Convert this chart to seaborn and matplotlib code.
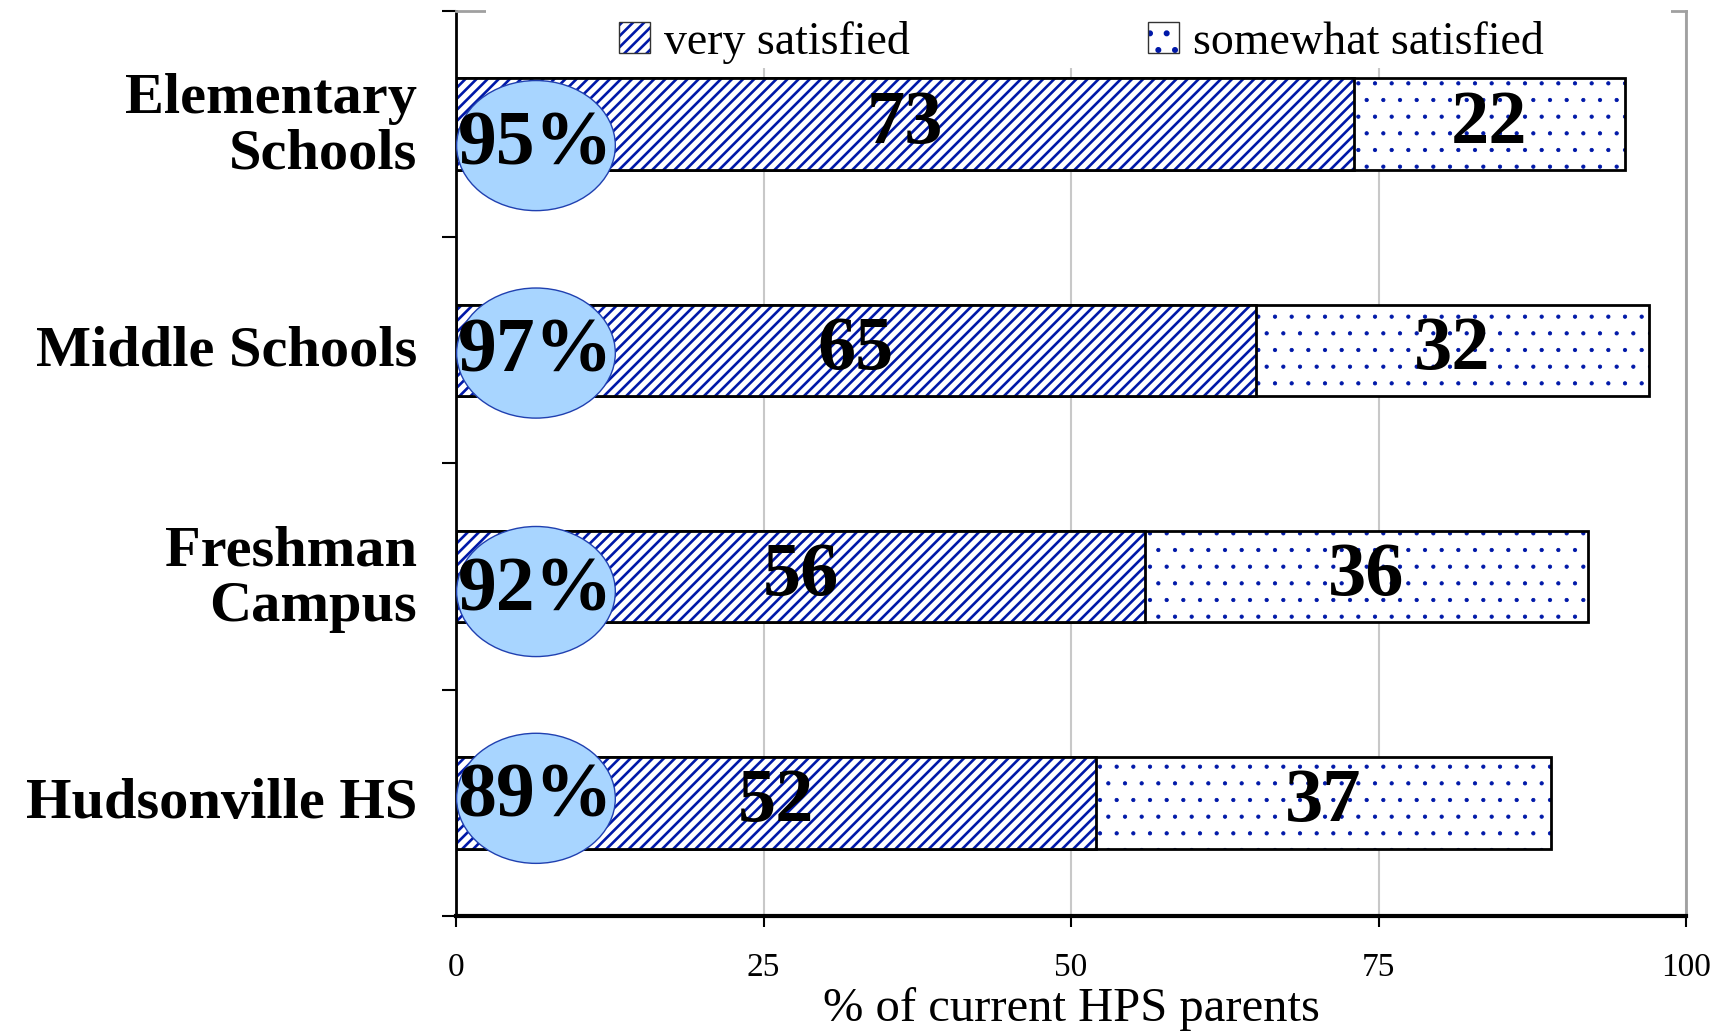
import numpy as np
import pandas as pd
import matplotlib
matplotlib.use("Agg")
import matplotlib.pyplot as plt
import matplotlib.patches as mpatches
import matplotlib.colors as mcolors
import matplotlib.transforms as mtransforms
import seaborn as sns

# ---- data ----
categories = ["Elementary\nSchools", "Middle Schools", "Freshman\nCampus", "Hudsonville HS"]
very_satisfied = [73, 65, 56, 52]
somewhat_satisfied = [22, 32, 36, 37]
total_labels = ["95%", "97%", "92%", "89%"]
x_ticks = [0, 25, 50, 75, 100]
series_names = ["very satisfied", "somewhat satisfied"]
x_label = "% of current HPS parents"

totals = [v + s for v, s in zip(very_satisfied, somewhat_satisfied)]
df = pd.DataFrame({"school": categories, "very": very_satisfied,
                   "somewhat": somewhat_satisfied, "total": totals})

# ---- style ----
sns.set_theme(style="ticks")
plt.rcParams["font.family"] = ["Liberation Serif", "DejaVu Serif"]
for key in ["text.color", "axes.labelcolor", "xtick.color", "ytick.color"]:
    plt.rcParams[key] = "black"

HATCH_BLUE = mcolors.to_rgba("#0018A8")
ELL_FACE = "#A8D5FF"
ELL_EDGE = "#2040B0"
DOT_LW = 0.6
LINE_LW = 1.9


def style_hatch(patches, lw):
    for p in patches:
        p._hatch_color = HATCH_BLUE
        if hasattr(p, "set_hatch_linewidth"):
            p.set_hatch_linewidth(lw)
        p.set_zorder(2)


fig = plt.figure(figsize=(17.3, 10.35), dpi=100)
ax = fig.add_axes([0.2636, 0.1150, 0.7110, 0.8744])

bar_w = 0.405
# full (somewhat) bars, dotted
plt.rcParams["hatch.linewidth"] = DOT_LW
sns.barplot(data=df, x="total", y="school", orient="y", order=categories,
            color="white", saturation=1, width=bar_w, errorbar=None,
            hatch=".", edgecolor="black", linewidth=2, ax=ax)
n_first = len(ax.patches)
style_hatch(ax.patches[:n_first], DOT_LW)
# very satisfied bars on top, diagonal hatch
plt.rcParams["hatch.linewidth"] = LINE_LW
sns.barplot(data=df, x="very", y="school", orient="y", order=categories,
            color="white", saturation=1, width=bar_w, errorbar=None,
            hatch="///", edgecolor="black", linewidth=2, ax=ax)
style_hatch(ax.patches[n_first:], LINE_LW)

ax.set_xlim(0, 100)
ax.set_ylim(3.5, -0.5)
ax.set_xticks(x_ticks)
ax.set_xticklabels([str(t) for t in x_ticks])
ax.set_ylabel("")
ax.set_xlabel(x_label, fontsize=35, labelpad=3, color="black")

# grid
ax.set_axisbelow(True)
ax.xaxis.grid(True, color="#C8C8C8", linewidth=1.5)
ax.yaxis.grid(False)

# spines
ax.spines["left"].set_color("black")
ax.spines["bottom"].set_color("black")
ax.spines["left"].set_linewidth(2)
ax.spines["bottom"].set_linewidth(3)
ax.spines["right"].set_visible(True)
ax.spines["right"].set_color("#A0A0A0")
ax.spines["right"].set_linewidth(2)
ax.spines["top"].set_visible(True)
ax.spines["top"].set_color("#A0A0A0")
ax.spines["top"].set_linewidth(2)

# ticks
ax.tick_params(axis="x", which="major", direction="out", length=8, width=1.5,
               color="black", labelcolor="black", labelsize=24, pad=18,
               bottom=True, top=False)
ax.tick_params(axis="y", which="major", length=0, pad=28, labelsize=42,
               labelcolor="black", left=True)
ax.set_yticks([-0.5, 0.5, 1.5, 2.5, 3.5], minor=True)
ax.tick_params(axis="y", which="minor", direction="out", length=10, width=1.5,
               color="black", left=True, right=False)
ax.tick_params(axis="x", which="minor", bottom=False)
shift_up = mtransforms.ScaledTranslation(0, 5 / 100, fig.dpi_scale_trans)
for t in ax.get_yticklabels():
    t.set_fontweight("bold")
    t.set_linespacing(1.08)
    t.set_transform(t.get_transform() + shift_up)

# white area behind legend covering top border and gridlines
ax.add_patch(mpatches.Rectangle((0.024, 0.937), 0.964, 0.09, transform=ax.transAxes,
                                facecolor="white", edgecolor="none", zorder=2.6,
                                clip_on=False))

# value labels inside segments
for i, (v, s) in enumerate(zip(very_satisfied, somewhat_satisfied)):
    ax.text(v / 2, i, str(v), ha="center", va="center", fontsize=55,
            fontweight="bold", color="black", zorder=6)
    ax.text(v + s / 2, i, str(s), ha="center", va="center", fontsize=55,
            fontweight="bold", color="black", zorder=6)

# total ellipses
ell_offsets = [0.095, 0.012, 0.066, -0.02]
for i, lab in enumerate(total_labels):
    cy = i + ell_offsets[i]
    ax.add_patch(mpatches.Ellipse((6.5, cy), width=12.9, height=0.575,
                                  facecolor=ELL_FACE, edgecolor=ELL_EDGE,
                                  linewidth=1.0, zorder=4, clip_on=False))
    ax.text(6.45, cy, lab, ha="center", va="center", fontsize=56,
            fontweight="bold", color="black", zorder=7)

# legend
h1 = mpatches.Patch(facecolor="white", edgecolor="#333333", hatch="///", linewidth=1)
h2 = mpatches.Patch(facecolor="white", edgecolor="#333333", hatch=".", linewidth=1)
style_hatch([h1], LINE_LW * 0.6)
style_hatch([h2], DOT_LW)
leg = ax.legend([h1, h2], series_names, ncol=2, loc="center",
                bbox_to_anchor=(0.5085, 0.9657), frameon=False, fontsize=33,
                handlelength=0.68, handleheight=0.68, handletextpad=0.3,
                columnspacing=5.2, borderaxespad=0, borderpad=0)
leg.set_zorder(8)
for txt in leg.get_texts():
    txt.set_color("black")

fig.savefig("out.png", dpi=100)
